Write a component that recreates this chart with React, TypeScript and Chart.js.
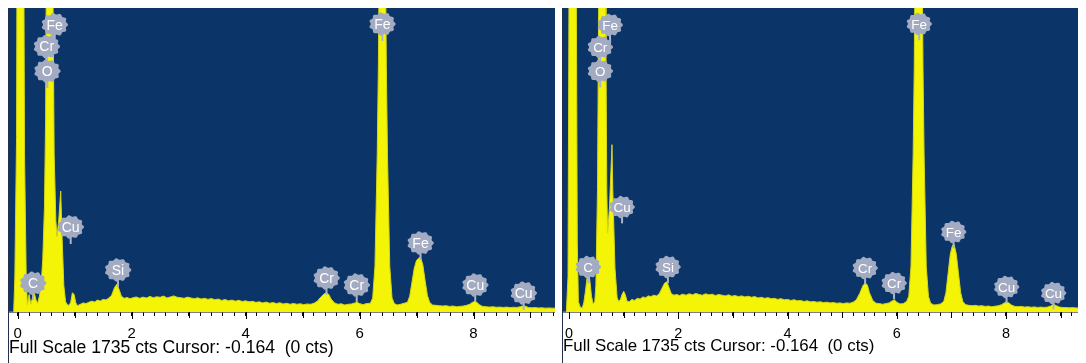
import React, { useEffect, useRef } from "react";
import { Chart, registerables } from "chart.js";

Chart.register(...registerables);

// ---------- Left spectrum ----------
const energyLeft = [
  -0.17, -0.07, -0.05, -0.02, 0.0, 0.09, 0.12, 0.15, 0.17, 0.2, 0.23, 0.26, 0.29, 0.32, 0.35, 0.38, 0.41, 0.44,
  0.47, 0.49, 0.5, 0.515, 0.605, 0.62, 0.64, 0.67, 0.69, 0.72, 0.755, 0.78, 0.81, 0.84, 0.87, 0.9, 0.93, 0.96,
  0.99, 1.02, 1.05, 1.1, 1.15, 1.2, 1.25, 1.3, 1.35, 1.4, 1.45, 1.5, 1.55, 1.6, 1.65, 1.7, 1.74, 1.78, 1.82,
  1.87, 1.92, 1.97, 2.02, 2.08, 2.14, 2.2, 2.26, 2.32, 2.38, 2.44, 2.5, 2.56, 2.62, 2.68, 2.74, 2.8, 2.86, 2.92,
  2.98, 3.04, 3.1, 3.16, 3.22, 3.28, 3.34, 3.4, 3.46, 3.52, 3.58, 3.64, 3.7, 3.76, 3.82, 3.88, 3.94, 4.0, 4.06,
  4.12, 4.18, 4.24, 4.3, 4.36, 4.42, 4.48, 4.54, 4.6, 4.66, 4.72, 4.78, 4.84, 4.9, 4.96, 5.02, 5.08, 5.14, 5.2,
  5.26, 5.32, 5.38, 5.42, 5.46, 5.5, 5.56, 5.62, 5.68, 5.74, 5.8, 5.86, 5.92, 5.96, 6.0, 6.06, 6.12, 6.19, 6.23,
  6.27, 6.31, 6.33, 6.36, 6.38, 6.42, 6.44, 6.47, 6.49, 6.53, 6.57, 6.61, 6.66, 6.72, 6.78, 6.84, 6.88, 6.92,
  6.96, 7.0, 7.04, 7.07, 7.11, 7.15, 7.19, 7.23, 7.28, 7.34, 7.4, 7.46, 7.52, 7.58, 7.64, 7.7, 7.76, 7.82, 7.88,
  7.94, 7.98, 8.02, 8.06, 8.1, 8.16, 8.22, 8.28, 8.34, 8.4, 8.46, 8.52, 8.58, 8.64, 8.7, 8.76, 8.82, 8.88, 8.92,
  8.96, 9.02, 9.08, 9.14, 9.2, 9.26, 9.32, 9.38, 9.43,
];
const countsLeft = [
  0, 0, 200, 1000, 3600, 3600, 900, 200, 40, 100, 45, 80, 110, 70, 50, 90, 150, 300,
  600, 1100, 1800, 3600, 3600, 1800, 900, 520, 430, 520, 690, 420, 150, 60, 42, 38, 55, 110,
  100, 52, 36, 44, 52, 48, 56, 62, 57, 68, 63, 72, 69, 80, 96, 140, 158, 128, 90,
  78, 83, 76, 81, 86, 78, 85, 80, 89, 82, 87, 84, 91, 80, 86, 92, 84, 82, 78,
  85, 80, 76, 81, 74, 78, 72, 77, 70, 74, 66, 71, 64, 68, 62, 67, 60, 64, 58,
  61, 55, 58, 52, 57, 50, 54, 48, 53, 46, 50, 44, 49, 44, 47, 42, 46, 44, 50,
  62, 85, 104, 110, 100, 74, 52, 44, 47, 40, 44, 46, 52, 55, 48, 42, 48, 50, 80,
  260, 900, 1400, 2600, 3600, 3600, 2600, 1400, 900, 260, 80, 48, 40, 44, 50, 55, 90, 170,
  250, 295, 308, 312, 270, 180, 95, 55, 40, 38, 36, 34, 36, 32, 34, 30, 32, 34, 38,
  45, 55, 60, 55, 42, 32, 30, 28, 30, 27, 28, 26, 28, 25, 27, 26, 30, 36, 32,
  26, 24, 25, 23, 24, 22, 23, 22, 22,
];
const peakNamesLeft = ["Fe", "Cr", "O", "Cu", "C", "Si", "Cr", "Cr", "Fe", "Fe", "Cu", "Cu"];
const peakEnergiesLeft = [0.65, 0.51, 0.52, 0.93, 0.27, 1.76, 5.42, 5.95, 6.4, 7.07, 8.03, 8.88];
const peakLevelsLeft = [1640, 1515, 1375, 485, 165, 240, 194, 154, 1644, 394, 154, 108];

// ---------- Right spectrum ----------
const energyRight = [
  -0.13, -0.05, -0.02, 0.0, 0.02, 0.11, 0.13, 0.15, 0.17, 0.2, 0.24, 0.27, 0.3, 0.33, 0.36, 0.38, 0.41, 0.44,
  0.47, 0.49, 0.52, 0.54, 0.56, 0.66, 0.675, 0.69, 0.705, 0.74, 0.785, 0.8, 0.84, 0.88, 0.91, 0.94, 0.97, 1.0,
  1.03, 1.06, 1.1, 1.15, 1.2, 1.25, 1.3, 1.35, 1.4, 1.45, 1.5, 1.55, 1.6, 1.65, 1.7, 1.75, 1.79, 1.83, 1.87,
  1.92, 1.97, 2.02, 2.08, 2.14, 2.2, 2.26, 2.32, 2.38, 2.44, 2.5, 2.56, 2.62, 2.68, 2.74, 2.8, 2.86, 2.92, 2.98,
  3.04, 3.1, 3.16, 3.22, 3.28, 3.34, 3.4, 3.46, 3.52, 3.58, 3.64, 3.7, 3.76, 3.82, 3.88, 3.94, 4.0, 4.06, 4.12,
  4.18, 4.24, 4.3, 4.36, 4.42, 4.48, 4.54, 4.6, 4.66, 4.72, 4.78, 4.84, 4.9, 4.96, 5.02, 5.08, 5.14, 5.2, 5.26,
  5.32, 5.38, 5.42, 5.46, 5.5, 5.56, 5.62, 5.68, 5.74, 5.8, 5.86, 5.92, 5.96, 6.0, 6.06, 6.12, 6.18, 6.22, 6.26,
  6.3, 6.32, 6.35, 6.37, 6.43, 6.45, 6.48, 6.5, 6.54, 6.58, 6.62, 6.68, 6.74, 6.8, 6.86, 6.9, 6.94, 6.98, 7.02,
  7.05, 7.09, 7.13, 7.17, 7.21, 7.26, 7.32, 7.38, 7.44, 7.5, 7.56, 7.62, 7.68, 7.74, 7.8, 7.86, 7.92, 7.97, 8.01,
  8.05, 8.1, 8.16, 8.22, 8.28, 8.34, 8.4, 8.46, 8.52, 8.58, 8.64, 8.7, 8.76, 8.82, 8.87, 8.92, 8.98, 9.04, 9.1,
  9.16, 9.22, 9.28, 9.34, 9.41,
];
const countsRight = [
  0, 0, 200, 2000, 3600, 3600, 2000, 400, 60, 30, 22, 55, 120, 200, 225, 180, 90, 45,
  60, 150, 700, 1700, 3600, 3600, 1500, 700, 450, 600, 955, 700, 250, 80, 60, 72, 100, 118,
  98, 62, 58, 72, 66, 78, 74, 86, 82, 92, 88, 96, 92, 104, 135, 165, 172, 140, 105,
  96, 100, 94, 102, 96, 104, 98, 106, 100, 96, 104, 98, 102, 94, 100, 96, 92, 98, 90,
  94, 88, 92, 86, 90, 84, 88, 80, 84, 78, 82, 76, 78, 72, 76, 70, 72, 66, 70,
  64, 66, 60, 64, 58, 60, 56, 58, 54, 56, 52, 54, 50, 52, 48, 52, 50, 56, 70,
  105, 150, 166, 155, 110, 66, 50, 48, 44, 48, 52, 64, 68, 56, 46, 48, 60, 90, 260,
  900, 1400, 2600, 3600, 3600, 2600, 1400, 900, 260, 90, 50, 40, 42, 46, 60, 110, 220, 330, 380,
  385, 330, 220, 110, 60, 42, 38, 36, 38, 34, 36, 32, 34, 30, 33, 36, 42, 52, 58,
  52, 40, 32, 30, 32, 28, 30, 27, 29, 26, 28, 26, 28, 34, 44, 36, 28, 26, 25,
  24, 25, 23, 24, 23,
];
const peakNamesRight = ["Fe", "Cr", "O", "Cu", "C", "Si", "Cr", "Cr", "Fe", "Fe", "Cu", "Cu"];
const peakEnergiesRight = [0.75, 0.57, 0.57, 0.97, 0.35, 1.81, 5.42, 5.95, 6.41, 7.04, 8.01, 8.87];
const peakLevelsRight = [1638, 1512, 1375, 599, 257, 257, 251, 165, 1644, 457, 143, 108];

// ---------- Axis ----------
const fullScaleCounts = 1735;
const majorTickValues = [0, 2, 4, 6, 8];
const majorTickLabels = ["0", "2", "4", "6", "8"];
const footerText = "Full Scale 1735 cts Cursor: -0.164  (0 cts)";

const BLUE = "#0b3468";
const YELLOW = "#f4f406";
const SANS = '"Liberation Sans", Arial, sans-serif';

type PanelProps = {
  energies: number[];
  counts: number[];
  names: string[];
  peakE: number[];
  peakC: number[];
  xMin: number;
  xMax: number;
  width: number;
  height: number;
  k: number;
};

function Panel(p: PanelProps) {
  const ref = useRef<HTMLCanvasElement | null>(null);
  useEffect(() => {
    const canvas = ref.current;
    if (!canvas) return;
    const k = p.k;

    const bgPlugin = {
      id: "bg",
      beforeDraw(chart: any) {
        const { ctx, chartArea } = chart;
        ctx.save();
        ctx.fillStyle = BLUE;
        ctx.fillRect(chartArea.left, chartArea.top, chartArea.right - chartArea.left, chartArea.bottom - chartArea.top);
        ctx.restore();
      },
    };

    const labelPlugin = {
      id: "peakLabels",
      afterDatasetsDraw(chart: any) {
        const { ctx } = chart;
        const xs = chart.scales.x;
        const ys = chart.scales.y;
        const rx = 12.5 * k;
        const ry = 11 * k;
        ctx.save();
        p.names.forEach((_, i) => {
          const x = xs.getPixelForValue(p.peakE[i]);
          const y = ys.getPixelForValue(p.peakC[i]);
          ctx.strokeStyle = "#a9b5cb";
          ctx.lineWidth = 2;
          ctx.beginPath();
          ctx.moveTo(x, y + ry - 2);
          ctx.lineTo(x, y + ry + 6 * k);
          ctx.stroke();
        });
        p.names.forEach((name, i) => {
          const cx = xs.getPixelForValue(p.peakE[i]);
          const cy = ys.getPixelForValue(p.peakC[i]);
          ctx.fillStyle = "#a2abc1";
          ctx.beginPath();
          const n = 96;
          for (let j = 0; j <= n; j++) {
            const t = (j / n) * Math.PI * 2;
            const b = 1 + 0.07 * Math.cos(11 * t);
            const px = cx + rx * b * Math.cos(t);
            const py = cy + ry * b * Math.sin(t);
            if (j === 0) ctx.moveTo(px, py);
            else ctx.lineTo(px, py);
          }
          ctx.closePath();
          ctx.fill();
          ctx.fillStyle = "#ffffff";
          ctx.font = `${14 * k}px ${SANS}`;
          ctx.textAlign = "center";
          ctx.textBaseline = "middle";
          ctx.fillText(name, cx, cy + 1);
        });
        ctx.restore();
      },
    };

    const extrasPlugin = {
      id: "extras",
      afterDraw(chart: any) {
        const { ctx, chartArea } = chart;
        const xs = chart.scales.x;
        ctx.save();
        ctx.strokeStyle = "#000";
        ctx.lineWidth = 1;
        for (let v = 0; v <= Math.floor(p.xMax); v++) {
          const x = Math.round(xs.getPixelForValue(v)) + 0.5;
          const len = v % 2 === 0 ? 7 : 6;
          ctx.beginPath();
          ctx.moveTo(x, chartArea.bottom);
          ctx.lineTo(x, chartArea.bottom + len);
          ctx.stroke();
        }
        ctx.strokeStyle = "#22304e";
        ctx.beginPath();
        ctx.moveTo(0.5, 0);
        ctx.lineTo(0.5, chart.height);
        ctx.stroke();
        ctx.fillStyle = "#000";
        ctx.font = `${17.6 * k}px ${SANS}`;
        ctx.textAlign = "left";
        ctx.textBaseline = "alphabetic";
        ctx.fillText(footerText, 1, chartArea.bottom + 41 * k);
        ctx.restore();
      },
    };

    const tickVals: number[] = [];
    for (let i = 0; i <= Math.floor(p.xMax * 5); i++) tickVals.push(Math.round(i * 2) / 10);

    const chart = new Chart(canvas, {
      type: "line",
      data: {
        datasets: [
          {
            data: p.energies.map((e, i) => ({ x: e, y: p.counts[i] })),
            fill: "origin",
            backgroundColor: YELLOW,
            borderColor: "#d6d618",
            borderWidth: 1,
            pointRadius: 0,
            tension: 0,
          },
        ],
      },
      options: {
        animation: false,
        responsive: false,
        maintainAspectRatio: false,
        events: [],
        layout: { padding: 0 },
        plugins: { legend: { display: false }, tooltip: { enabled: false }, title: { display: false } },
        scales: {
          x: {
            type: "linear",
            min: p.xMin,
            max: p.xMax,
            afterBuildTicks: (s: any) => {
              s.ticks = tickVals.map((v) => ({ value: v }));
            },
            afterFit: (s: any) => {
              s.height = p.height - 304;
              s.paddingLeft = 0;
              s.paddingRight = 0;
            },
            ticks: {
              autoSkip: false,
              maxRotation: 0,
              padding: 9,
              color: "#000",
              font: { family: SANS, size: 15 * k },
              callback: (v: any) => {
                const idx = majorTickValues.findIndex((m) => Math.abs(m - Number(v)) < 1e-6);
                return idx >= 0 ? majorTickLabels[idx] : "";
              },
            },
            grid: {
              display: true,
              drawOnChartArea: false,
              drawTicks: true,
              tickLength: 4,
              tickColor: "#000",
              tickWidth: 1,
            },
            border: { display: true, color: "#000", width: 1.5 },
          },
          y: { display: false, min: 0, max: fullScaleCounts },
        },
      },
      plugins: [bgPlugin, labelPlugin, extrasPlugin],
    } as any);
    return () => chart.destroy();
  }, []);
  return <canvas ref={ref} width={p.width} height={p.height} style={{ display: "block", width: p.width, height: p.height }} />;
}

export default function App() {
  return (
    <div style={{ position: "relative", width: 1078, height: 355 }}>
      <div style={{ position: "absolute", left: 0, top: 0 }}>
        <Panel
          energies={energyLeft}
          counts={countsLeft}
          names={peakNamesLeft}
          peakE={peakEnergiesLeft}
          peakC={peakLevelsLeft}
          xMin={-0.17}
          xMax={9.43}
          width={547}
          height={355}
          k={1}
        />
      </div>
      <div style={{ position: "absolute", left: 554, top: 0 }}>
        <Panel
          energies={energyRight}
          counts={countsRight}
          names={peakNamesRight}
          peakE={peakEnergiesRight}
          peakC={peakLevelsRight}
          xMin={-0.13}
          xMax={9.41}
          width={521}
          height={355}
          k={0.96}
        />
      </div>
    </div>
  );
}
